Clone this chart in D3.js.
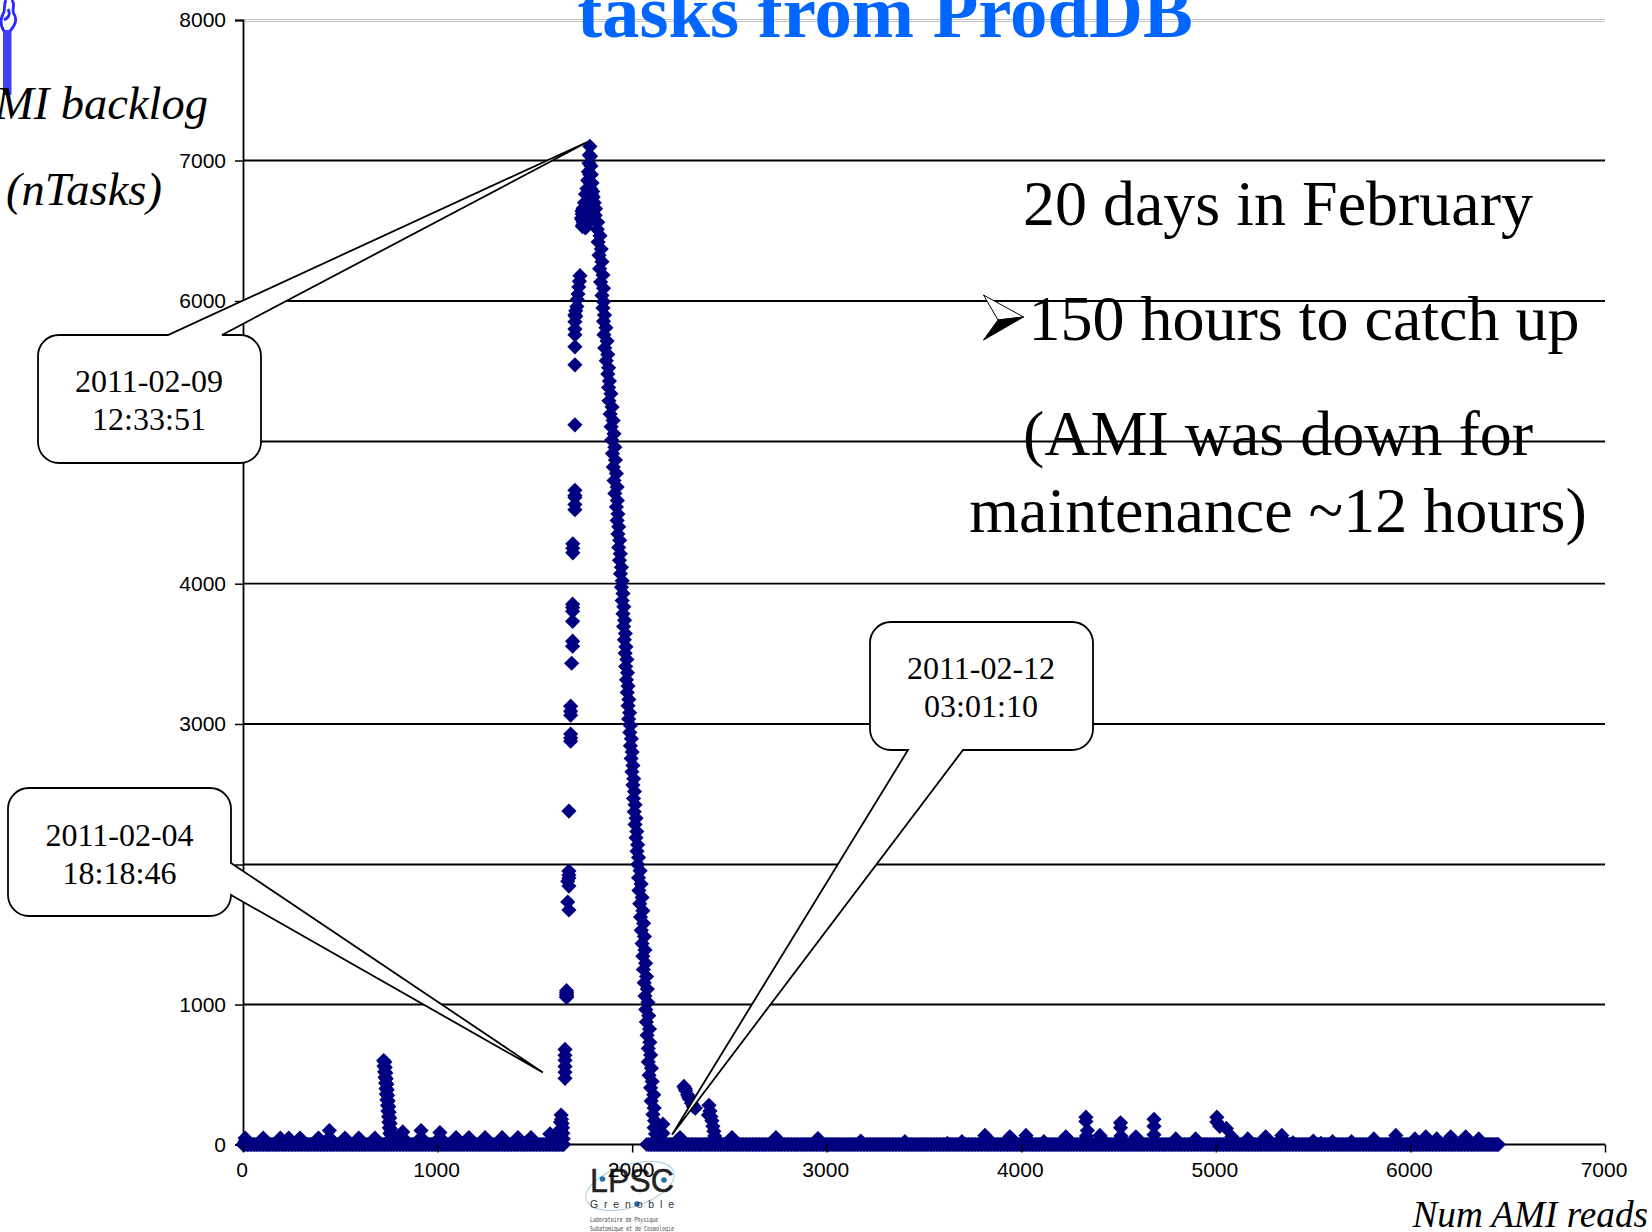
<!DOCTYPE html>
<html><head><meta charset="utf-8">
<script src="https://cdn.jsdelivr.net/npm/d3@7"></script>
<style>html,body{margin:0;padding:0;background:#fff;overflow:hidden}svg{display:block}</style>
</head><body><svg id="c" width="1652" height="1232"></svg>
<script>
// ---- chart values ----
const xTicks=[0,1000,2000,3000,4000,5000,6000,7000];
const yTicks=[0,1000,2000,3000,4000,5000,6000,7000,8000];
// reads sitting on the zero line
const zeroReads=[0,15,30,45,60,75,90,105,120,135,150,165,180,195,210,225,240,255,270,285,300,315,330,345,360,375,390,405,420,435,450,465,480,495,510,525,540,555,570,585,600,615,630,645,660,675,690,705,720,735,750,765,780,795,810,825,840,855,870,885,900,915,930,945,960,975,990,1005,1020,1035,1050,1065,1080,1095,1110,1125,1140,1155,1170,1185,1200,1215,1230,1245,1260,1275,1290,1305,1320,1335,1350,1365,1380,1395,1410,1425,1440,1455,1470,1485,1500,1515,1530,1545,1560,1575,1590,1605,1620,1635,1648,
2075,2085,2100,2115,2130,2145,2160,2175,2190,2205,2220,2235,2250,2265,2280,2295,2310,2325,2340,2355,2370,2385,2400,2415,2430,2445,2460,2475,2490,2505,2520,2535,2550,2565,2580,2595,2610,2625,2640,2655,2670,2685,2700,2715,2730,2745,2760,2775,2790,2805,2820,2835,2850,2865,2880,2895,2910,2925,2940,2955,2970,2985,3000,3015,3030,3045,3060,3075,3090,3105,3120,3135,3150,3165,3180,3195,3210,3225,3240,3255,3270,3285,3300,3315,3330,3345,3360,3375,3390,3405,3420,3435,3450,3465,3480,3495,3510,3525,3540,3555,3570,3585,3600,3615,3630,3645,3660,3675,3690,3705,3720,3735,3750,3765,3780,3795,3810,3825,3840,3855,3870,3885,3900,3915,3930,3945,3960,3975,3990,4005,4020,4035,4050,4065,4080,4095,4110,4125,4140,4155,4170,4185,4200,4215,4230,4245,4260,4275,4290,4305,4320,4335,4350,4365,4380,4395,4410,4425,4440,4455,4470,4485,4500,4515,4530,4545,4560,4575,4590,4605,4620,4635,4650,4665,4680,4695,4710,4725,4740,4755,4770,4785,4800,4815,4830,4845,4860,4875,4890,4905,4920,4935,4950,4965,4980,4995,5010,5025,5040,5055,5070,5085,5100,5115,5130,5145,5160,5175,5190,5205,5220,5235,5250,5265,5280,5295,5310,5325,5340,5355,5370,5385,5400,5415,5430,5445,5460,5475,5490,5505,5520,5535,5550,5565,5580,5595,5610,5625,5640,5655,5670,5685,5700,5715,5730,5745,5760,5775,5790,5805,5820,5835,5850,5865,5880,5895,5910,5925,5940,5955,5970,5985,6000,6015,6030,6045,6060,6075,6090,6105,6120,6135,6150,6165,6180,6195,6210,6225,6240,6255,6270,6285,6300,6315,6330,6345,6360,6375,6390,6405,6420,6435,6445,6452];
const zeroReadsMid=[8,23,38,53,68,83,98,113,128,143,158,173,188,203,218,233,248,263,278,293,308,323,338,353,368,383,398,413,428,443,458,473,488,503,518,533,548,563,578,593,608,623,638,653,668,683,698,713,728,743,758,773,788,803,818,833,848,863,878,893,908,923,938,953,968,983,998,1013,1028,1043,1058,1073,1088,1103,1118,1133,1148,1163,1178,1193,1208,1223,1238,1253,1268,1283,1298,1313,1328,1343,1358,1373,1388,1403,1418,1433,1448,1463,1478,1493,1508,1523,1538,1553,1568,1583,1598,1613,1628,1643,
2093,2108,2123,2138,2153,2168,2183,2198,2213,2228,2243,2258,2273,2288,2303,2318,2333,2348,2363,2378,2393,2408,2423,2438,2453,2468,2483,2498,2513,2528,2543,2558,2573,2588,2603,2618,2633,2648,2663,2678,2693,2708,2723,2738,2753,2768,2783,2798,2813,2828,2843,2858,2873,2888,2903,2918,2933,2948,2963,2978,2993,3008,3023,3038,3053,3068,3083,3098,3113,3128,3143,3158,3173,3188,3203,3218,3233,3248,3263,3278,3293,3308,3323,3338,3353,3368,3383,3398,3413,3428,3443,3458,3473,3488,3503,3518,3533,3548,3563,3578,3593,3608,3623,3638,3653,3668,3683,3698,3713,3728,3743,3758,3773,3788,3803,3818,3833,3848,3863,3878,3893,3908,3923,3938,3953,3968,3983,3998,4013,4028,4043,4058,4073,4088,4103,4118,4133,4148,4163,4178,4193,4208,4223,4238,4253,4268,4283,4298,4313,4328,4343,4358,4373,4388,4403,4418,4433,4448,4463,4478,4493,4508,4523,4538,4553,4568,4583,4598,4613,4628,4643,4658,4673,4688,4703,4718,4733,4748,4763,4778,4793,4808,4823,4838,4853,4868,4883,4898,4913,4928,4943,4958,4973,4988,5003,5018,5033,5048,5063,5078,5093,5108,5123,5138,5153,5168,5183,5198,5213,5228,5243,5258,5273,5288,5303,5318,5333,5348,5363,5378,5393,5408,5423,5438,5453,5468,5483,5498,5513,5528,5543,5558,5573,5588,5603,5618,5633,5648,5663,5678,5693,5708,5723,5738,5753,5768,5783,5798,5813,5828,5843,5858,5873,5888,5903,5918,5933,5948,5963,5978,5993,6008,6023,6038,6053,6068,6083,6098,6113,6128,6143,6158,6173,6188,6203,6218,6233,6248,6263,6278,6293,6308,6323,6338,6353,6368,6383,6398,6413,6428,6440];
// small bumps above the zero line
const bumpReads=[11,11,104,192,235,293,388,444,444,524,595,678,821,821,915,915,1012,1012,1095,1161,1244,1332,1413,1480,1578,2158,2158,2246,2513,2739,2955,3175,3402,3620,3695,3813,3830,3941,3955,4024,4030,4116,4229,4240,4332,4332,4340,4335,4404,4415,4510,4510,4512,4589,4600,4682,4682,4682,5005,5005,5020,5054,5082,5164,5256,5265,5339,5339,5396,5501,5540,5600,5697,5812,5925,6023,6079,6135,6207,6284,6351,4794,4896];
const bumpTasks=[46,25,46,46,46,46,46,100,50,46,46,46,90,50,100,50,85,50,50,50,50,50,50,50,75,145,80,50,50,50,42,25,20,8,20,65,40,55,35,65,40,20,55,35,195,165,100,60,65,40,155,120,60,55,35,180,130,70,195,160,130,115,55,40,55,35,65,40,12,25,8,20,20,40,65,40,55,40,55,55,40,40,40];
// first spike near read 730
const spikeReads=[723,729,725,731,728,734,730,736,733,739,735,741,737,743,740,746,743,749,745,751,748,754,750,756,752,758,755,761,757,763];
const spikeTasks=[600,590,560,550,520,510,480,470,440,430,400,390,360,350,320,310,280,270,240,230,200,190,160,150,120,110,80,70,40,30];
// second cluster, rising side
const riseReads=[1578,1630,1635,1637,1640,1642,1644,1646,1632,1632,1632,1655,1655,1655,1655,1655,1655,1663,1663,1663,1663,1663,1675,1669,1675,1669,1675,1675,1675,1675,1684,1684,1684,1684,1684,1684,1689,1694,1694,1694,1694,1694,1694,1695,1695,1695,1706,1706,1706,1706,1706,1706,1706,1706,1706,1706,1706,1706,1710,1710,1716,1718,1722,1726,1729,1732];
const riseTasks=[75,100,210,180,150,120,80,40,160,110,60,679,637,601,558,516,473,1099,1085,1071,1060,1050,1675,1732,1846,1880,1903,1925,1953,2380,2878,2900,2928,3063,3090,3127,3433,3554,3590,3732,3803,3830,3854,4217,4250,4281,4557,4520,4607,4657,4620,5119,5546,5674,5759,5800,5852,5900,5930,5890,5960,6010,6050,6100,6140,6180];
// top of the peak
const peakReads=[1783,1780,1786,1778,1788,1775,1790,1772,1794,1768,1797,1760,1770,1790,1800,1755,1765,1780,1795,1805,1748,1760,1775,1790,1810,1743,1755,1770,1785,1742,1750,1765,1745,1755,1760,1772,1742,1750,1748,1745,1740,1782,1778,1786,1775,1792];
const peakTasks=[7100,7040,7030,6980,6960,6920,6900,6860,6840,6800,6780,6760,6760,6760,6740,6700,6700,6700,6700,6700,6660,6660,6660,6660,6660,6620,6620,6620,6620,6580,6580,6580,6540,6540,6520,6600,6640,6600,6560,6530,6590,6900,6850,6800,6720,6580];
// falling side of the peak
const fallReads=[1797,1811,1810,1823,1821,1835,1825,1841,1830,1845,1833,1850,1838,1853,1845,1853,1850,1858,1853,1865,1855,1871,1859,1875,1867,1879,1875,1883,1879,1891,1881,1897,1887,1902,1892,1907,1895,1911,1899,1914,1903,1919,1907,1923,1911,1924,1919,1927,1923,1931,1927,1936,1931,1939,1935,1945,1940,1949,1945,1953,1949,1957,1953,1961,1956,1965,1960,1968,1964,1973,1967,1976,1971,1979,1975,1983,1979,1987,1982,1991,1988,1996,1991,2000,1995,2004,1999,2008,2004,2012,2007,2015,2011,2020,2015,2024,2020,2028,2025,2033,2029,2041,2033,2046,2035,2051,2039,2055,2043,2059,2047,2063,2051,2066,2055,2069,2058,2074,2062,2078,2066,2081,2070,2085,2073,2089,2077,2091,2083,2095,2083,2099,2087,2103,2095,2111,2098,2113,2107,2115,2113,2120,2117];
const fallTasks=[6700,6655,6610,6560,6510,6465,6420,6370,6325,6280,6230,6185,6135,6090,6040,5995,5950,5900,5855,5810,5760,5715,5665,5620,5575,5525,5480,5430,5385,5340,5290,5245,5195,5150,5105,5055,5010,4960,4915,4870,4820,4775,4725,4680,4635,4585,4540,4490,4445,4400,4350,4305,4255,4210,4165,4115,4070,4020,3975,3930,3880,3835,3785,3740,3695,3645,3600,3550,3505,3460,3410,3365,3315,3270,3225,3175,3130,3080,3035,2990,2940,2895,2845,2800,2755,2705,2660,2610,2565,2520,2470,2425,2375,2330,2285,2235,2190,2140,2095,2050,2000,1955,1905,1860,1815,1765,1720,1670,1625,1580,1530,1485,1435,1390,1345,1295,1250,1200,1155,1110,1060,1015,965,920,875,825,780,730,685,640,590,545,495,450,405,355,310,260,215,170,120,75,25];
// second bump after the peak
const afterReads=[2266,2272,2275,2285,2290,2295,2305,2315,2325,2395,2400,2392,2405,2410,2415,2420,2424,2430];
const afterTasks=[415,400,385,355,340,325,295,270,260,280,240,210,200,170,130,95,60,40];
// callouts: text and tip as (reads, tasks)
const calloutLines=[["2011-02-09","12:33:51"],["2011-02-04","18:18:46"],["2011-02-12","03:01:10"]];
const calloutTipReads=[1775,1541,2205];
const calloutTipTasks=[7135,515,70];
const noteLines=["20 days in February","150 hours to catch up","(AMI was down for","maintenance ~12 hours)"];
const titleText="tasks from ProdDB";
const yLabelLines=["AMI backlog","(nTasks)"];
const xLabelText="Num AMI reads";

// ---- layout ----
const svg=d3.select("#c");
const X0=243,X1=1605,Y0=1144.5,Y1=20;
const x=d3.scaleLinear().domain([0,7000]).range([X0,X1]);
const y=d3.scaleLinear().domain(yTicks).range([Y0,1004.5,864.5,724,583.7,441.5,301,160.5,Y1]);
const SERIF="'Liberation Serif','Times New Roman',serif",SANS="'Liberation Sans',Arial,sans-serif";

// decoration top-left
const deco=svg.append("g");
deco.append("rect").attr("x",3).attr("y",30).attr("width",8.5).attr("height",65).attr("fill","#4040ff");
deco.append("path").attr("d","M4,31 C0,25 0,20 3,14 C6,10 3,5 6,0 M10,31 C14,27 18,20 14,14 C11,9 16,6 12,0 M4,20 C8,18 11,15 8,9")
  .attr("fill","none").attr("stroke","#2a2aff").attr("stroke-width",2.8);

// gridlines
const grid=svg.append("g");
yTicks.filter(d=>d>0&&d<8000).forEach(d=>grid.append("line").attr("x1",X0).attr("x2",X1).attr("y1",y(d)).attr("y2",y(d)).attr("stroke","#000").attr("stroke-width",1.8));
[19.5,21.5].forEach(v=>grid.append("line").attr("x1",X0).attr("x2",X1).attr("y1",v).attr("y2",v).attr("stroke","#c4c4c4").attr("stroke-width",1));

// axes
const xAxis=svg.append("g").attr("transform",`translate(0,${Y0})`).call(d3.axisBottom(x).tickValues(xTicks).tickSize(8).tickPadding(10).tickFormat(d3.format("d")));
const yAxis=svg.append("g").attr("transform",`translate(${X0},0)`).call(d3.axisLeft(y).tickValues(yTicks).tickSize(8).tickPadding(9).tickFormat(d3.format("d")));
[xAxis,yAxis].forEach(a=>{a.selectAll(".domain").attr("stroke","#000").attr("stroke-width",1.8);
  a.selectAll(".tick line").attr("stroke","#000").attr("stroke-width",1.5);
  a.selectAll("text").attr("fill","#000").style("font-family",SANS).style("font-size","21px");});
xAxis.selectAll("text").attr("dx",-1.5);

// points
const pts=[];
zeroReads.concat(zeroReadsMid).forEach(r=>pts.push([r,0]));
[[bumpReads,bumpTasks],[spikeReads,spikeTasks],[riseReads,riseTasks],[peakReads,peakTasks],[fallReads,fallTasks],[afterReads,afterTasks]]
  .forEach(([a,b])=>a.forEach((r,i)=>pts.push([r,b[i]])));
const D=7.6;
svg.append("g").selectAll("path").data(pts).join("path")
  .attr("d",`M0,${-D}L${D},0L0,${D}L${-D},0Z`)
  .attr("transform",d=>`translate(${x(d[0])},${y(d[1])})`)
  .attr("fill","#000080");

// callouts
const boxes=[
 {l:38,t:335,r:261,b:463,edge:"top",a:168,c:222,tx:149,ty:392},
 {l:8,t:788,r:231,b:916,edge:"right",a:863,c:895,tx:119.5,ty:846},
 {l:870,t:622,r:1093,b:750,edge:"bottom",a:908,c:963,tx:981,ty:679}];
boxes.forEach((B,i)=>{
  const R=21,tx=x(calloutTipReads[i]),ty=y(calloutTipTasks[i]);
  const p=d3.path();
  p.moveTo(B.l+R,B.t);
  if(B.edge==="top"){p.lineTo(B.a,B.t);p.lineTo(tx,ty);p.lineTo(B.c,B.t);}
  p.lineTo(B.r-R,B.t);p.arcTo(B.r,B.t,B.r,B.t+R,R);
  if(B.edge==="right"){p.lineTo(B.r,B.a);p.lineTo(tx,ty);p.lineTo(B.r,B.c);}
  p.lineTo(B.r,B.b-R);p.arcTo(B.r,B.b,B.r-R,B.b,R);
  if(B.edge==="bottom"){p.lineTo(B.c,B.b);p.lineTo(tx,ty);p.lineTo(B.a,B.b);}
  p.lineTo(B.l+R,B.b);p.arcTo(B.l,B.b,B.l,B.b-R,R);
  p.lineTo(B.l,B.t+R);p.arcTo(B.l,B.t,B.l+R,B.t,R);p.closePath();
  svg.append("path").attr("d",p.toString()).attr("fill","#fff").attr("stroke","#000").attr("stroke-width",1.8).attr("stroke-linejoin","miter");
  calloutLines[i].forEach((s,j)=>svg.append("text").attr("x",B.tx).attr("y",B.ty+j*38).attr("text-anchor","middle")
    .style("font-family",SERIF).style("font-size","32px").text(s));
});

// texts
svg.append("text").attr("x",885).attr("y",37).attr("text-anchor","middle").attr("fill","#0066ff")
  .style("font-family",SERIF).style("font-weight","bold").style("font-size","74.7px").text(titleText);
const noteY=[225,340,455,532],noteX=[1278,1304,1278,1278];
noteLines.forEach((s,i)=>svg.append("text").attr("x",noteX[i]).attr("y",noteY[i]).attr("text-anchor","middle")
  .style("font-family",SERIF).style("font-size","64px").text(s));
// bullet arrow: white upper half, black lower half
svg.append("path").attr("d","M983.5,295 L1023.5,317 L998,320 Z").attr("fill","#fff").attr("stroke","#000").attr("stroke-width",1);
svg.append("path").attr("d","M1023.5,317 L998,320 L983.5,340 Z").attr("fill","#000").attr("stroke","#000").attr("stroke-width",1);
svg.append("text").attr("x",208).attr("y",119).attr("text-anchor","end").style("font-family",SERIF).style("font-style","italic").style("font-size","46.5px").text(yLabelLines[0]);
svg.append("text").attr("x",84).attr("y",205).attr("text-anchor","middle").style("font-family",SERIF).style("font-style","italic").style("font-size","46.5px").text(yLabelLines[1]);
svg.append("text").attr("x",1648).attr("y",1227).attr("text-anchor","end").style("font-family",SERIF).style("font-style","italic").style("font-size","37.2px").text(xLabelText);

// logo
const logo=svg.append("g");
logo.append("ellipse").attr("cx",630).attr("cy",1186).attr("rx",46).attr("ry",21).attr("transform","rotate(-18 630 1186)").attr("fill","none").attr("stroke","#a8cbdd").attr("stroke-width",1);
logo.append("text").attr("x",590).attr("y",1192).attr("textLength",84).attr("lengthAdjust","spacingAndGlyphs").style("font-family",SANS).style("font-size","34px").attr("fill","#222").attr("stroke","#222").attr("stroke-width",.5).text("LPSC");
[[602.5,1179],[664,1180],[637,1204]].forEach(c=>logo.append("circle").attr("cx",c[0]).attr("cy",c[1]).attr("r",2.8).attr("fill","#1f70b0"));
logo.append("text").attr("x",590).attr("y",1208).attr("textLength",84).style("font-family",SANS).style("font-size","10.5px").attr("fill","#333").text("Grenoble");
logo.append("text").attr("x",590).attr("y",1222).attr("textLength",68).attr("lengthAdjust","spacingAndGlyphs").style("font-family","'DejaVu Sans Mono'").style("font-size","7px").attr("fill","#444").text("Laboratoire de Physique");
logo.append("text").attr("x",590).attr("y",1231).attr("textLength",84).attr("lengthAdjust","spacingAndGlyphs").style("font-family","'DejaVu Sans Mono'").style("font-size","7px").attr("fill","#444").text("Subatomique et de Cosmologie");
xAxis.raise();xAxis.select(".domain").remove();
svg.append("line").attr("x1",X0).attr("x2",X1).attr("y1",Y0).attr("y2",Y0).attr("stroke","#000").attr("stroke-width",1.8).lower();
</script></body></html>
